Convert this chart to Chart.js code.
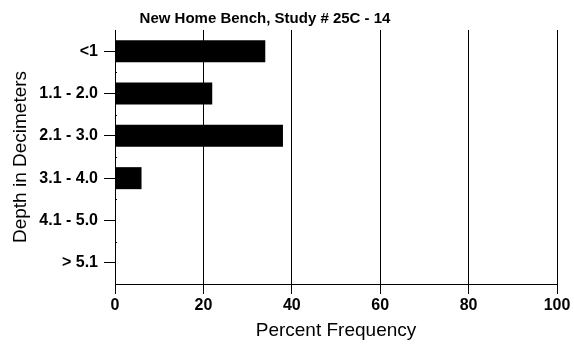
<!DOCTYPE html>
<html>
<head>
<meta charset="utf-8">
<title>New Home Bench, Study # 25C - 14</title>
<script src="https://cdn.jsdelivr.net/npm/chart.js@4/dist/chart.umd.min.js"></script>
<style>
  html, body { margin: 0; padding: 0; background: #fff; }
  #wrap { width: 574px; height: 347px; position: relative; }
</style>
</head>
<body>
<div id="wrap"><canvas id="depthChart" width="574" height="347"></canvas></div>
<script>
'use strict';

const chartTitle = 'New Home Bench, Study # 25C - 14';
const depthLabels = ['<1', '1.1 - 2.0', '2.1 - 3.0', '3.1 - 4.0', '4.1 - 5.0', '> 5.1'];
const percentValues = [34, 22, 38, 6, 0, 0];
const xTicks = [0, 20, 40, 60, 80, 100];

const FONT = "'Liberation Sans', Arial, Helvetica, sans-serif";

// title sits left of the plot centre in the original, so draw it by hand
const titlePlugin = {
  id: 'offsetTitle',
  afterDraw(chart) {
    const ctx = chart.ctx;
    ctx.save();
    ctx.font = `bold 15px ${FONT}`;
    ctx.fillStyle = '#000';
    ctx.textAlign = 'center';
    ctx.textBaseline = 'middle';
    ctx.fillText(chartTitle, 265, 19);
    ctx.restore();
  }
};

// small marks between the depth classes on the left axis
const minorTicks = {
  id: 'minorTicks',
  afterDraw(chart) {
    const y = chart.scales.y;
    const ctx = chart.ctx;
    ctx.save();
    ctx.strokeStyle = '#000';
    ctx.lineWidth = 1;
    for (let i = 0; i < depthLabels.length - 1; i++) {
      const py = Math.round(y.getPixelForValue(i + 0.5)) + 0.5;
      ctx.beginPath();
      ctx.moveTo(y.right, py);
      ctx.lineTo(y.right + 2, py);
      ctx.stroke();
    }
    ctx.restore();
  }
};

new Chart(document.getElementById('depthChart'), {
  type: 'bar',
  data: {
    labels: depthLabels,
    datasets: [{
      data: percentValues,
      backgroundColor: '#000',
      borderWidth: 0,
      categoryPercentage: 1,
      barPercentage: 0.52
    }]
  },
  options: {
    indexAxis: 'y',
    responsive: false,
    animation: false,
    layout: { padding: { top: 30, right: 17, left: 0, bottom: 0 } },
    plugins: {
      legend: { display: false },
      tooltip: { enabled: false }
    },
    scales: {
      x: {
        min: 0,
        max: 100,
        afterFit: s => { s.height = 63; },
        afterBuildTicks: s => { s.ticks = xTicks.map(v => ({ value: v })); },
        grid: { color: '#000', lineWidth: 1, tickLength: 10, tickColor: '#000' },
        border: { display: true, color: '#000', width: 1 },
        ticks: { color: '#000', padding: 2, font: { family: FONT, size: 16, weight: 'bold' } },
        title: {
          display: true,
          text: 'Percent Frequency',
          color: '#000',
          font: { family: FONT, size: 19 },
          padding: { top: 0, bottom: 5 }
        }
      },
      y: {
        afterFit: s => { s.width = 115; },
        grid: { offset: false, drawOnChartArea: false, tickLength: 11, tickColor: '#000' },
        border: { display: true, color: '#000', width: 1 },
        ticks: { color: '#000', padding: 6, font: { family: FONT, size: 16, weight: 'bold' } },
        title: {
          display: true,
          text: 'Depth in Decimeters',
          color: '#000',
          font: { family: FONT, size: 19 },
          padding: { top: 9, bottom: 0 }
        }
      }
    }
  },
  plugins: [titlePlugin, minorTicks]
});
</script>
</body>
</html>
